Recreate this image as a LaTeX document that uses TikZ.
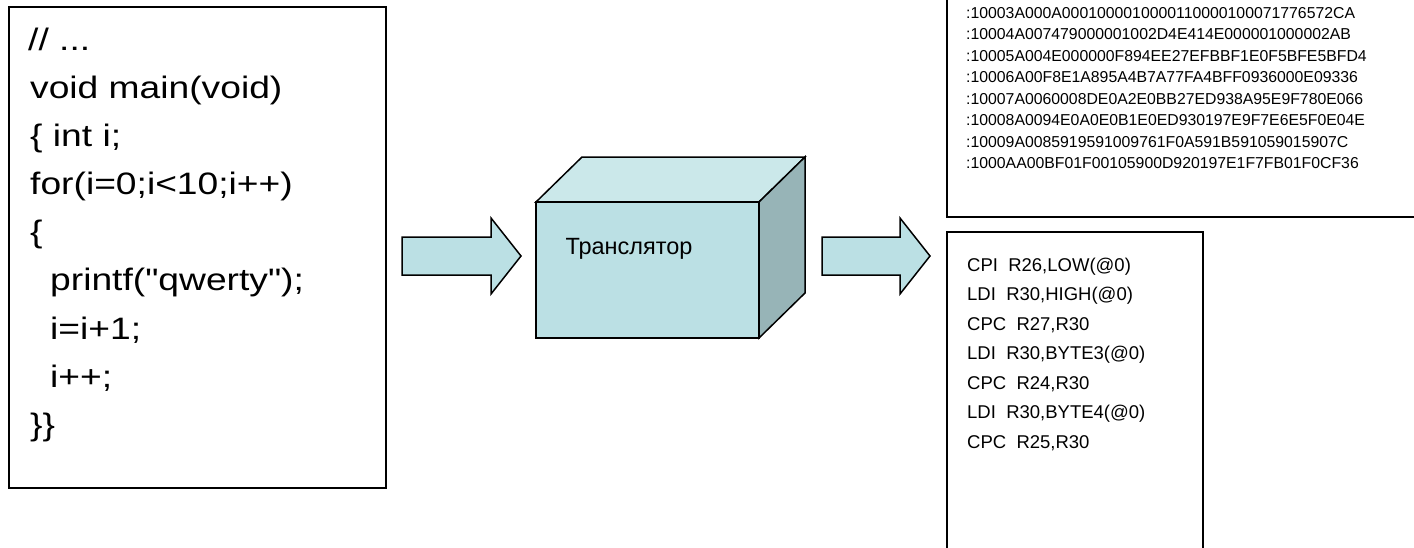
\documentclass[tikz,border=0pt]{standalone}
\usepackage{fontspec}
\setmainfont{Liberation Sans}
\newfontfamily\codefont[FakeStretch=1.2]{Liberation Sans}
\definecolor{cubefront}{RGB}{187,224,228}
\definecolor{cubetop}{RGB}{203,232,234}
\definecolor{cubeside}{RGB}{151,180,183}
\definecolor{arrowfill}{RGB}{187,224,228}
\tikzset{
  boxline/.style={draw=black, line width=2pt},
  codeline/.style={anchor=base west, inner sep=0pt, font=\codefont\fontsize{31}{31}\selectfont},
  hexline/.style={anchor=base west, inner sep=0pt, font=\fontsize{15.8}{16}\selectfont},
  asmline/.style={anchor=base west, inner sep=0pt, font=\fontsize{18.5}{19}\selectfont},
  face/.style={draw=black, line width=1.5pt, line join=miter},
  blockarrow/.style={draw=black, line width=1.5pt, fill=arrowfill, line join=miter},
}
\begin{document}
\begin{tikzpicture}[x=1pt, y=-1pt]
\useasboundingbox (0,0) rectangle (1414,547);
% source box
\draw[boxline] (9,7) rectangle (386,488);
\node[codeline] (c1) at (28,50) {// ...};
\node[codeline] (c2) at (30,98) {void main(void)};
\node[codeline] (c3) at (30,146) {\{ int i;};
\node[codeline] (c4) at (30,194) {for(i=0;i<10;i++)};
\node[codeline] (c5) at (30,242) {\{};
\node[codeline] (c6) at (50,290.5) {printf("qwerty");};
\node[codeline] (c7) at (50,339) {i=i+1;};
\node[codeline] (c8) at (50,387) {i++;};
\node[codeline] (c9) at (30,435) {\}\}};
% left block arrow
\draw[blockarrow] (402,237) -- (491,237) -- (491,218) -- (521,256) -- (491,294) -- (491,275) -- (402,275) -- cycle;
% cube
\fill[cubefront] (536,202) rectangle (759,338);
\draw[face, fill=cubetop] (536,202) -- (582,157) -- (805,157) -- (759,202) -- cycle;
\draw[face, fill=cubeside] (759,202) -- (805,157) -- (805,293) -- (759,338) -- cycle;
\draw[face] (536,202) rectangle (759,338);
\node[font=\fontsize{23.5}{24}\selectfont, inner sep=0pt] (trans) at (629,249) {Транслятор};
% right block arrow
\draw[blockarrow] (822,237) -- (900,237) -- (900,218) -- (930,256) -- (900,294) -- (900,275) -- (822,275) -- cycle;
% hex box
\draw[boxline] (947,-10) -- (947,217) -- (1420,217);
\node[hexline] (h1) at (966,18) {:10003A000A0001000010000110000100071776572CA};
\node[hexline] (h2) at (966,39.5) {:10004A007479000001002D4E414E000001000002AB};
\node[hexline] (h3) at (966,61) {:10005A004E000000F894EE27EFBBF1E0F5BFE5BFD4};
\node[hexline] (h4) at (966,82.5) {:10006A00F8E1A895A4B7A77FA4BFF0936000E09336};
\node[hexline] (h5) at (966,104) {:10007A0060008DE0A2E0BB27ED938A95E9F780E066};
\node[hexline] (h6) at (966,125.5) {:10008A0094E0A0E0B1E0ED930197E9F7E6E5F0E04E};
\node[hexline] (h7) at (966,147) {:10009A0085919591009761F0A591B591059015907C};
\node[hexline] (h8) at (966,168.5) {:1000AA00BF01F00105900D920197E1F7FB01F0CF36};
% asm box
\draw[boxline] (947,560) -- (947,232) -- (1203,232) -- (1203,560);
\node[asmline] (s1) at (967,271) {CPI\ \ R26,LOW(@0)};
\node[asmline] (s2) at (967,300.5) {LDI\ \ R30,HIGH(@0)};
\node[asmline] (s3) at (967,330) {CPC\ \ R27,R30};
\node[asmline] (s4) at (967,359.5) {LDI\ \ R30,BYTE3(@0)};
\node[asmline] (s5) at (967,389) {CPC\ \ R24,R30};
\node[asmline] (s6) at (967,418.5) {LDI\ \ R30,BYTE4(@0)};
\node[asmline] (s7) at (967,448) {CPC\ \ R25,R30};
\end{tikzpicture}
\end{document}
